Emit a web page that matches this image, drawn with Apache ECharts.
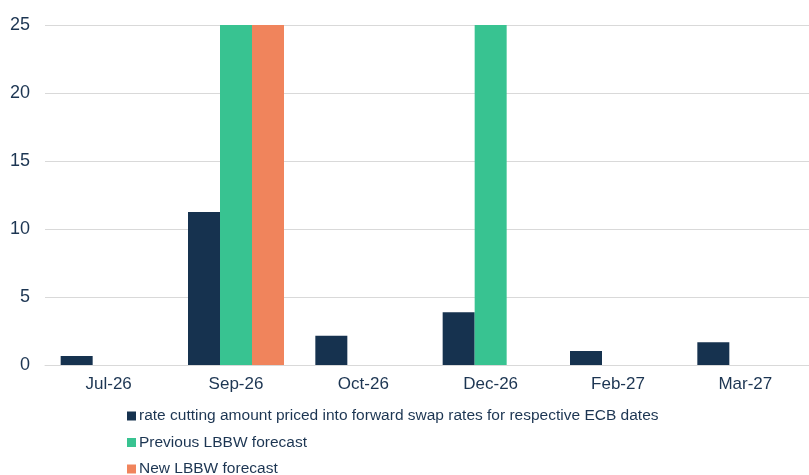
<!DOCTYPE html>
<html>
<head>
<meta charset="utf-8">
<script src="https://cdn.jsdelivr.net/npm/echarts@6/dist/echarts.min.js"></script>
<style>
  html, body { margin: 0; padding: 0; background: #ffffff; }
  #chart { width: 809px; height: 475px; }
</style>
</head>
<body>
<div id="chart"></div>
<script>
// ECB meeting dates
const categories = ['Jul-26', 'Sep-26', 'Oct-26', 'Dec-26', 'Feb-27', 'Mar-27'];
// Basis points of cuts priced into forward swap rates
const marketPriced = [0.66, 11.25, 2.15, 3.87, 1.03, 1.67];
// LBBW forecasts (bp)
const previousForecast = [null, 25, null, 25, null, null];
const newForecast = [null, 25, null, null, null, null];
const yTicks = { min: 0, max: 25, interval: 5 };

const seriesNames = [
  'rate cutting amount priced into forward swap rates for respective ECB dates',
  'Previous LBBW forecast',
  'New LBBW forecast'
];
const textColor = '#1c3552';
const font = 'Liberation Sans, Arial, sans-serif';

const chart = echarts.init(document.getElementById('chart'), null, { renderer: 'canvas' });
chart.setOption({
  animation: false,
  backgroundColor: '#ffffff',
  textStyle: { fontFamily: font },
  color: ['#16324f', '#38c391', '#f0845c'],
  grid: { left: 45, right: 0, top: 25, bottom: 110, containLabel: false },
  legend: {
    orient: 'vertical',
    left: 127,
    top: 406,
    width: 660,
    height: 90,
    padding: 0,
    itemWidth: 9,
    itemHeight: 9,
    itemGap: 6.5,
    icon: 'rect',
    textStyle: { fontSize: 15.5, lineHeight: 20, color: textColor, fontFamily: font, padding: [0, 0, 0, -2] },
    data: seriesNames
  },
  xAxis: {
    type: 'category',
    data: categories,
    axisLine: { show: true, lineStyle: { color: '#d9d9d9', width: 1 } },
    axisTick: { show: false },
    axisLabel: { fontSize: 17, color: textColor, margin: 11, fontFamily: font }
  },
  yAxis: {
    type: 'value',
    min: yTicks.min,
    max: yTicks.max,
    interval: yTicks.interval,
    axisLine: { show: false },
    axisTick: { show: false },
    splitLine: { lineStyle: { color: '#d9d9d9', width: 1 } },
    axisLabel: { fontSize: 18, color: textColor, margin: 15, fontFamily: font }
  },
  series: [
    { name: seriesNames[0], type: 'bar', data: marketPriced, barWidth: 32, barGap: '0%' },
    { name: seriesNames[1], type: 'bar', data: previousForecast, barWidth: 32, barGap: '0%' },
    { name: seriesNames[2], type: 'bar', data: newForecast, barWidth: 32, barGap: '0%' }
  ]
});
</script>
</body>
</html>
